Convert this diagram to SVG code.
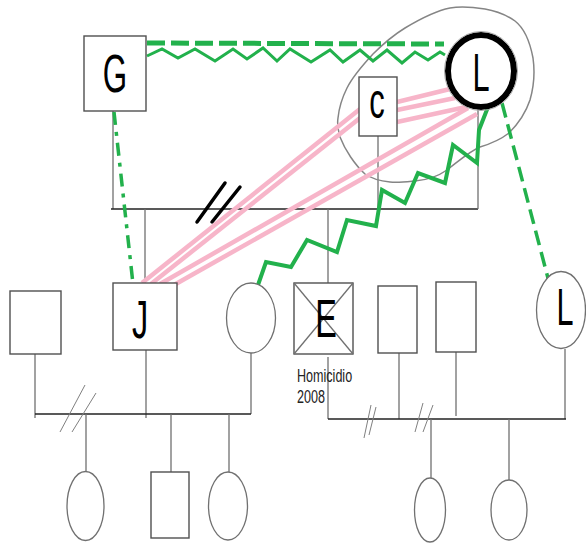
<svg xmlns="http://www.w3.org/2000/svg" width="586" height="543" viewBox="0 0 586 543">
<style>
.box{fill:#fff;stroke:#505050;stroke-width:1.4}
.ell{fill:#fff;stroke:#707070;stroke-width:1.3}
.ln{stroke:#707070;stroke-width:1.3;fill:none}
.blk{stroke:#222;stroke-width:1.3;fill:none}
.big{font-family:"Liberation Sans",Arial,sans-serif;font-size:54px;fill:#000;text-anchor:middle}
.sm{font-family:"Liberation Sans",Arial,sans-serif;font-size:18.5px;fill:#222}
.pink{stroke:#f7b5c9;stroke-width:4.5;fill:none}
.grn{stroke:#22b14c;fill:none;stroke-linejoin:miter}
.sl{stroke:#808080;stroke-width:1;fill:none}
</style>
<rect width="586" height="543" fill="#fff"/>
<g id="connectors">
  <!-- family lines top -->
  <line class="ln" x1="113" y1="111" x2="113" y2="209"/>
  <line class="blk" x1="111" y1="209" x2="478" y2="209"/>
  <line class="ln" x1="378" y1="136" x2="378" y2="209"/>
  <line class="ln" x1="478" y1="108" x2="478" y2="209"/>
  <line class="ln" x1="145" y1="209" x2="145" y2="283"/>
  <line class="ln" x1="328" y1="209" x2="328" y2="283"/>
  <line x1="197" y1="222" x2="225" y2="183" stroke="#000" stroke-width="3.5" stroke-linecap="round"/>
  <line x1="212" y1="222" x2="240" y2="187" stroke="#000" stroke-width="3.5" stroke-linecap="round"/>
  <!-- left family -->
  <line class="ln" x1="35" y1="354" x2="35" y2="418"/>
  <line class="ln" x1="146" y1="350" x2="146" y2="418"/>
  <line class="ln" x1="251" y1="353" x2="251" y2="414"/>
  <line class="blk" x1="35" y1="414" x2="251" y2="414"/>
  <line class="sl" x1="60" y1="432" x2="85" y2="385"/>
  <line class="sl" x1="72" y1="432" x2="96" y2="393"/>
  <line class="ln" x1="86" y1="414" x2="86" y2="472"/>
  <line class="ln" x1="171" y1="414" x2="171" y2="472"/>
  <line class="ln" x1="229" y1="414" x2="229" y2="472"/>
  <!-- right family -->
  <line class="ln" x1="328" y1="357" x2="328" y2="419"/>
  <line class="ln" x1="399" y1="353" x2="399" y2="419"/>
  <line class="ln" x1="456" y1="352" x2="456" y2="416"/>
  <line class="ln" x1="565" y1="349" x2="565" y2="419"/>
  <line class="blk" x1="328" y1="419" x2="566" y2="419"/>
  <line class="sl" x1="364" y1="438" x2="371" y2="405"/>
  <line class="sl" x1="369" y1="435" x2="376" y2="407"/>
  <line class="sl" x1="415" y1="432" x2="423" y2="403"/>
  <line class="sl" x1="423" y1="432" x2="433" y2="405"/>
  <line class="ln" x1="431" y1="419" x2="431" y2="478"/>
  <line class="ln" x1="509" y1="419" x2="509" y2="481"/>
  <!-- gray outline around C and L -->
  <path d="M338,118 C339,108 342,98 347,88 C352,78 360,68 373,54 C383,44 392,36 405,28 C420,19 435,11 450,8 C462,6 472,7 485,9 C497,11 505,14 515,21 C524,28 530,42 533,58 C535,72 534,86 530,100 C526,112 520,122 509,133 C500,140 490,144 480,147 C470,151 460,160 447,170 C437,177 427,180 415,181 C405,182 397,183 390,182 C380,181 372,179 365,174 C355,165 345,150 340,137 C338,130 337,124 338,118 Z" fill="none" stroke="#858585" stroke-width="1.5"/>
  <!-- pink relationships -->
  <line class="pink" x1="142" y1="283" x2="360" y2="109"/>
  <line class="pink" x1="151" y1="284" x2="360" y2="118"/>
  <line class="pink" x1="160" y1="284" x2="468" y2="108"/>
  <line class="pink" x1="174" y1="285" x2="477" y2="114"/>
  <line class="pink" x1="397" y1="102" x2="450" y2="89"/>
  <line class="pink" x1="397" y1="110" x2="455" y2="98"/>
  <line class="pink" x1="397" y1="122" x2="466" y2="107"/>
  <!-- green relationships -->
  <line class="grn" x1="147" y1="43" x2="444" y2="44" stroke-width="5" stroke-dasharray="18 6"/>
  <polyline class="grn" stroke-width="3" points="147,56 162,49 178,58 195,49 215,61 233,49 247,59 263,48 277,61 290,49 311,62 330,50 343,62 360,50 373,61 387,50 402,63 415,52 428,60 440,52 445,55"/>
  <line class="grn" x1="114" y1="112" x2="133" y2="284" stroke-width="3.5" stroke-dasharray="13 7 4 7"/>
  <line class="grn" x1="502" y1="103" x2="549" y2="282" stroke-width="3.5" stroke-dasharray="15 7"/>
  <polyline class="grn" stroke-width="4" points="488,107 479,130 477,163 453,145 445,183 418,173 405,203 382,190 376,226 347,220 337,252 307,240 291,267 266,262 258,285"/>
</g>
<g id="node-G">
  <rect class="box" x="84" y="36" width="62" height="75"/>
  <text class="big" transform="translate(115,92) scale(0.58,1)">G</text>
</g>
<g id="node-C">
  <rect class="box" x="359" y="77" width="38" height="59"/>
  <text class="big" style="font-size:50px" transform="translate(377,118) scale(0.62,1)">c</text>
</g>
<g id="node-L-top">
  <ellipse cx="481" cy="71" rx="33" ry="36" fill="#fff" stroke="#000" stroke-width="6"/>
  <ellipse cx="481" cy="71" rx="36.5" ry="39.5" fill="none" stroke="#aaa" stroke-width="1"/>
  <text class="big" style="font-size:53px" transform="translate(481,91) scale(0.58,1)">L</text>
</g>
<g id="node-left-square">
  <rect class="box" x="10" y="291" width="51" height="63"/>
</g>
<g id="node-J">
  <rect class="box" x="113" y="283" width="64" height="67"/>
  <text class="big" transform="translate(140,338) scale(0.6,1)">J</text>
</g>
<g id="node-circle">
  <ellipse class="ell" cx="251" cy="318" rx="24.5" ry="35"/>
</g>
<g id="node-E">
  <rect class="box" x="294" y="283" width="59" height="71"/>
  <line class="ln" x1="294" y1="283" x2="353" y2="354"/>
  <line class="ln" x1="353" y1="283" x2="294" y2="354"/>
  <text class="big" transform="translate(326,337) scale(0.6,1)">E</text>
  <text class="sm" transform="translate(297,382) scale(0.68,1)">Homicidio</text>
  <text class="sm" transform="translate(297,403) scale(0.68,1)">2008</text>
</g>
<g id="node-box2">
  <rect class="box" x="378" y="286" width="39" height="67"/>
</g>
<g id="node-box3">
  <rect class="box" x="436" y="282" width="40" height="70"/>
</g>
<g id="node-L-right">
  <ellipse class="ell" cx="561" cy="310" rx="24.5" ry="38.5"/>
  <text class="big" style="font-size:51px" transform="translate(565,325) scale(0.6,1)">L</text>
</g>
<g id="node-child1">
  <ellipse class="ell" cx="85.5" cy="506" rx="18.5" ry="34.5"/>
</g>
<g id="node-child2">
  <rect class="box" x="151" y="472" width="38" height="66"/>
</g>
<g id="node-child3">
  <ellipse class="ell" cx="228" cy="506" rx="19.5" ry="34"/>
</g>
<g id="node-child4">
  <ellipse class="ell" cx="430" cy="510" rx="15.5" ry="32"/>
</g>
<g id="node-child5">
  <ellipse class="ell" cx="509" cy="510" rx="18" ry="30"/>
</g>
</svg>
